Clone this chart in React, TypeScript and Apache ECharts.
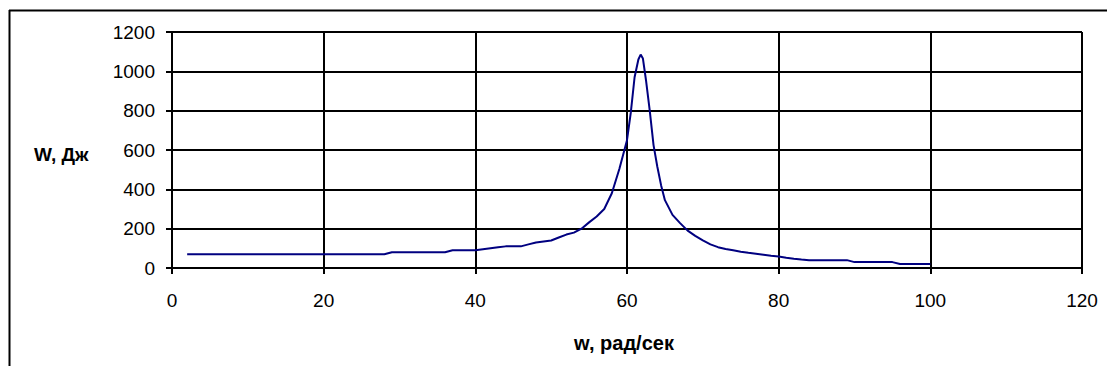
import React, { useEffect, useRef } from "react";
import * as echarts from "echarts";

const omega: number[] = [
  2, 28, 29, 36, 37, 40, 41, 42, 43, 44, 46, 47, 48, 49, 50, 51, 52, 53, 54, 55,
  56, 57, 58, 59, 60, 60.5, 61, 61.5, 61.8, 62.1, 62.5, 63, 63.5, 64, 64.5, 65,
  66, 67, 68, 69, 70, 71, 72, 73, 74, 75, 76, 77, 78, 79, 80, 81, 82, 83, 84,
  89, 90, 95, 96, 100,
];
const energy: number[] = [
  70, 70, 80, 80, 90, 90, 95, 100, 105, 110, 110, 120, 130, 135, 140, 155, 170, 180, 200, 232,
  262, 300, 380, 505, 650, 790, 970, 1060, 1085, 1065, 956, 800, 625, 515, 420, 345,
  270, 228, 190, 163, 140, 120, 106, 97, 90, 83, 77, 72, 67, 62, 58, 52, 47, 43, 40,
  40, 30, 30, 20, 20,
];
const yTicks = { min: 0, max: 1200, interval: 200 };
const xTicks = { min: 0, max: 120, interval: 20 };
const yTitle = "W, Дж";
const xTitle = "w, рад/сек";

export default function App() {
  const ref = useRef<HTMLDivElement>(null);
  useEffect(() => {
    if (!ref.current) return;
    const chart = echarts.init(ref.current, null, { renderer: "svg" });
    const font = "'Liberation Sans', Arial, sans-serif";
    const lineCol = "#000";
    const gridLine = { show: true, lineStyle: { color: lineCol, width: 2 } };
    chart.setOption({
      animation: false,
      backgroundColor: "#fff",
      grid: { left: 172, right: 25, top: 32, bottom: 106, containLabel: false },
      xAxis: {
        type: "value",
        min: xTicks.min,
        max: xTicks.max,
        interval: xTicks.interval,
        axisLine: { show: true, onZero: false, lineStyle: { color: lineCol, width: 2 } },
        axisTick: { show: true, inside: false, length: 6, lineStyle: { color: lineCol, width: 2 } },
        axisLabel: {
          color: "#000",
          fontSize: 19,
          fontFamily: font,
          margin: 23,
          formatter: (v: number) => String(v),
        },
        splitLine: gridLine,
      },
      yAxis: {
        type: "value",
        min: yTicks.min,
        max: yTicks.max,
        interval: yTicks.interval,
        axisLine: { show: true, lineStyle: { color: lineCol, width: 2 } },
        axisTick: { show: true, inside: false, length: 6, lineStyle: { color: lineCol, width: 2 } },
        axisLabel: {
          color: "#000",
          fontSize: 19,
          fontFamily: font,
          margin: 17,
          formatter: (v: number) => String(v),
        },
        splitLine: gridLine,
      },
      series: [
        {
          type: "line",
          data: omega.map((w, i) => [w, energy[i]]),
          showSymbol: false,
          symbol: "none",
          lineStyle: { color: "#000080", width: 2 },
        },
      ],
      graphic: [
        {
          type: "text",
          x: 34,
          y: 154,
          style: {
            text: yTitle,
            fontSize: 19,
            fontWeight: "bold",
            fontFamily: font,
            fill: "#000",
            verticalAlign: "middle",
          },
        },
        {
          type: "text",
          x: 624,
          y: 343,
          style: {
            text: xTitle,
            fontSize: 20,
            fontWeight: "bold",
            fontFamily: font,
            fill: "#000",
            align: "center",
            verticalAlign: "middle",
          },
        },
        {
          type: "line",
          shape: { x1: 9.5, y1: 10, x2: 9.5, y2: 366 },
          style: { stroke: "#000", lineWidth: 2 },
        },
        {
          type: "line",
          shape: { x1: 9, y1: 10.5, x2: 1107, y2: 10.5 },
          style: { stroke: "#000", lineWidth: 2 },
        },
      ],
    });
    return () => chart.dispose();
  }, []);
  return (
    <div
      ref={ref}
      style={{ position: "fixed", left: 0, top: 0, width: 1107, height: 374 }}
    />
  );
}
